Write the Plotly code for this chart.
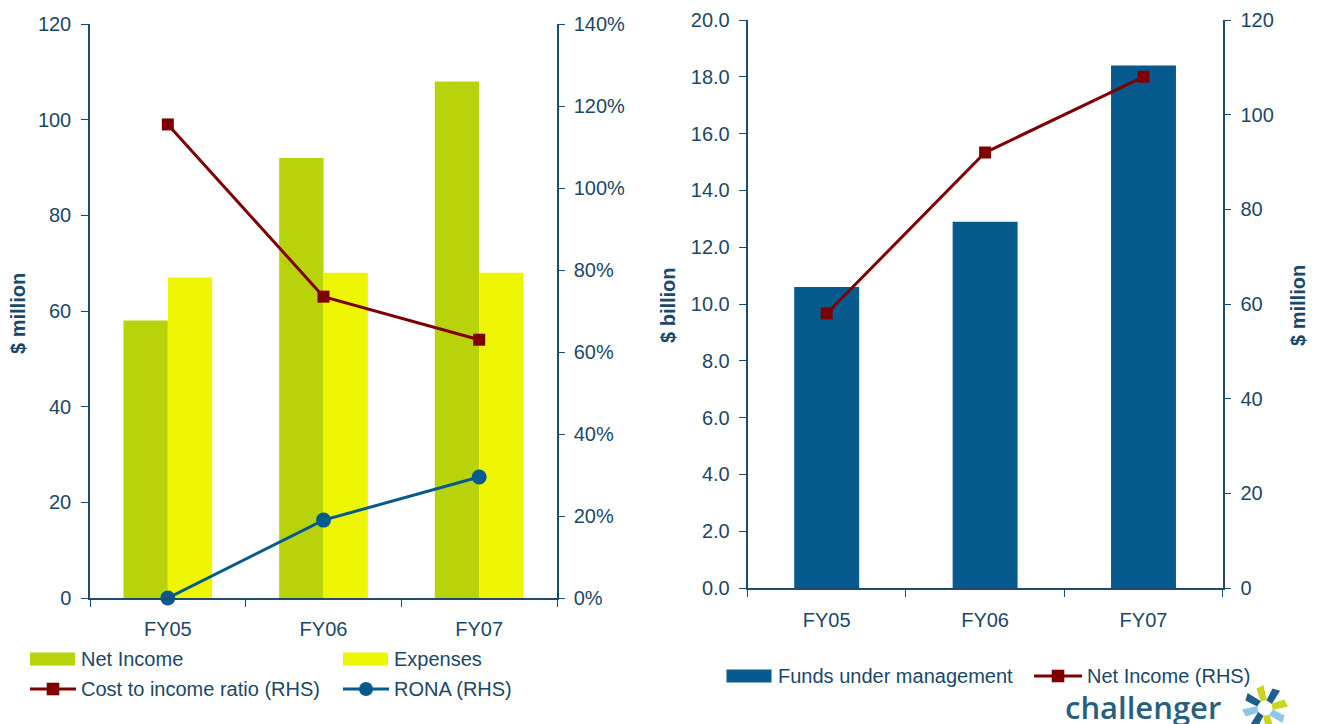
import math
import plotly.graph_objects as go

W, H = 1320, 724

# ---- data -------------------------------------------------------------
years = ["FY05", "FY06", "FY07"]
net_income_mn = [58, 92, 108]
expenses_mn = [67, 68, 68]
cost_to_income_pct = [115.5, 73.5, 63.0]
rona_pct = [0.0, 19.0, 29.5]
funds_under_mgmt_bn = [10.6, 12.9, 18.4]

mn_ticks = [0, 20, 40, 60, 80, 100, 120]
pct_ticks = [0, 20, 40, 60, 80, 100, 120, 140]
bn_ticks = [0, 2, 4, 6, 8, 10, 12, 14, 16, 18, 20]

# ---- style ------------------------------------------------------------
INK = "#1B4868"
AXIS = "#1E4C6C"
GREEN = "#B8D30B"
YELLOW = "#EEF502"
MAROON = "#7F0000"
BLUE = "#065A8E"
FONT = "Liberation Sans, Arial, sans-serif"
TICKFONT = dict(family=FONT, size=20, color=INK)


def px(x):
    return x / W


def py(y):
    return 1 - y / H


LEFT_X = [px(90), px(557)]
LEFT_Y = [py(598), py(24)]
RIGHT_X = [px(747.5), px(1222.7)]
RIGHT_Y = [py(588), py(20)]

fig = go.Figure()

# ---- left panel: income / expenses with ratios on the RHS -------------
fig.add_trace(go.Bar(name="Net Income", x=years, y=net_income_mn,
                     marker=dict(color=GREEN, line=dict(width=0)),
                     width=0.285, offset=-0.285, xaxis="x", yaxis="y"))
fig.add_trace(go.Bar(name="Expenses", x=years, y=expenses_mn,
                     marker=dict(color=YELLOW, line=dict(width=0)),
                     width=0.285, offset=0.0, xaxis="x", yaxis="y"))
fig.add_trace(go.Scatter(name="Cost to income ratio (RHS)", x=years, y=cost_to_income_pct,
                         mode="lines+markers", line=dict(color=MAROON, width=3),
                         marker=dict(symbol="square", size=12, color=MAROON),
                         xaxis="x", yaxis="y2"))
fig.add_trace(go.Scatter(name="RONA (RHS)", x=years, y=rona_pct,
                         mode="lines+markers", line=dict(color=BLUE, width=3),
                         marker=dict(symbol="circle", size=15, color=BLUE),
                         xaxis="x", yaxis="y2", cliponaxis=False))

# ---- right panel: funds under management with net income on the RHS ---
fig.add_trace(go.Bar(name="Funds under management", x=years, y=funds_under_mgmt_bn,
                     marker=dict(color=BLUE, line=dict(width=0)),
                     width=0.41, xaxis="x2", yaxis="y3"))
fig.add_trace(go.Scatter(name="Net Income (RHS)", x=years, y=net_income_mn,
                         mode="lines+markers", line=dict(color=MAROON, width=3),
                         marker=dict(symbol="square", size=12, color=MAROON),
                         xaxis="x2", yaxis="y4"))

common = dict(showgrid=False, zeroline=False, showline=True, linecolor=AXIS,
              linewidth=1.5, tickcolor=AXIS, tickwidth=1.3, ticklen=7,
              ticks="outside", tickfont=TICKFONT, fixedrange=True, automargin=False)

layout = dict(
    width=W, height=H,
    margin=dict(l=0, r=0, t=0, b=0, autoexpand=False),
    paper_bgcolor="white", plot_bgcolor="rgba(0,0,0,0)",
    showlegend=False, barmode="overlay",
    xaxis=dict(common, type="category", domain=LEFT_X, anchor="y",
               range=[-0.5, 2.5], tickson="boundaries", ticklabelstandoff=12),
    yaxis=dict(common, domain=LEFT_Y, anchor="x", range=[0, 120],
               tickvals=mn_ticks, ticklabelstandoff=6),
    yaxis2=dict(common, overlaying="y", side="right", anchor="x", range=[0, 140],
                tickvals=pct_ticks, ticktext=[f"{v}%" for v in pct_ticks],
                ticklen=6, ticklabelstandoff=5),
    # inner half of the crossing ticks on the left panel
    xaxis5=dict(showgrid=False, zeroline=False, showline=False, overlaying="x",
                anchor="y", range=[-0.5, 2.5], tickvals=[-0.5, 0.5, 1.5, 2.5],
                ticks="inside", ticklen=7, tickwidth=1.3, tickcolor=AXIS,
                showticklabels=False, fixedrange=True, automargin=False),
    yaxis5=dict(showgrid=False, zeroline=False, showline=False, overlaying="y",
                anchor="x", side="left", range=[0, 120], tickvals=mn_ticks,
                ticks="inside", ticklen=7, tickwidth=1.3, tickcolor=AXIS,
                showticklabels=False, fixedrange=True, automargin=False),
    xaxis2=dict(common, type="category", domain=RIGHT_X, anchor="y3",
                range=[-0.5, 2.5], tickson="boundaries", ticklabelstandoff=13),
    yaxis3=dict(common, domain=RIGHT_Y, anchor="x2", range=[0, 20],
                tickvals=bn_ticks, tickformat=".1f", ticklabelstandoff=5),
    yaxis4=dict(common, overlaying="y3", side="right", anchor="x2", range=[0, 120],
                tickvals=mn_ticks, ticklabelstandoff=5),
)
fig.update_layout(**layout)

shapes = []
annotations = []

# ---- axis titles -------------------------------------------------------
for text, x, y in [("$ million", 18, 314), ("$ billion", 668, 305), ("$ million", 1298, 306)]:
    annotations.append(dict(text=text, x=px(x), y=py(y), xref="paper", yref="paper",
                            textangle=-90, showarrow=False, xanchor="center", yanchor="middle",
                            font=dict(family=FONT, size=20, color=INK, weight="bold")))


# ---- legends -------------------------------------------------------------
def legend_entry(trace, x0, yc, sym_w=45):
    name = trace.name
    if trace.type == "bar":
        shapes.append(dict(type="rect", xref="paper", yref="paper",
                           x0=px(x0), x1=px(x0 + sym_w), y0=py(yc + 6.5), y1=py(yc - 6.5),
                           fillcolor=trace.marker.color, line=dict(width=0)))
    else:
        c = trace.line.color
        shapes.append(dict(type="line", xref="paper", yref="paper",
                           x0=px(x0), x1=px(x0 + sym_w + 1), y0=py(yc), y1=py(yc),
                           line=dict(color=c, width=3)))
        xm = x0 + sym_w / 2 + 0.5
        r = 6.3 if trace.marker.symbol == "square" else 7
        shapes.append(dict(type="rect" if trace.marker.symbol == "square" else "circle",
                           xref="paper", yref="paper",
                           x0=px(xm - r), x1=px(xm + r), y0=py(yc + r), y1=py(yc - r),
                           fillcolor=c, line=dict(width=0)))
    annotations.append(dict(text=name, x=px(x0 + sym_w + 4), y=py(yc), xref="paper",
                            yref="paper", showarrow=False, xanchor="left", yanchor="middle",
                            font=dict(family=FONT, size=20, color=INK)))


tr = {t.name: t for t in fig.data}
legend_entry(tr["Net Income"], 30, 659)
legend_entry(tr["Expenses"], 343, 659)
legend_entry(tr["Cost to income ratio (RHS)"], 30, 689)
legend_entry(tr["RONA (RHS)"], 343, 689)
legend_entry(tr["Funds under management"], 726.5, 676)
legend_entry(tr["Net Income (RHS)"], 1034, 676, sym_w=47)

# ---- company mark ---------------------------------------------------------
annotations.append(dict(text="challenger", x=px(1063), y=py(707), xref="paper", yref="paper",
                        showarrow=False, xanchor="left", yanchor="middle",
                        font=dict(family="Open Sans, sans-serif", size=31, color="#27607F",
                                  weight=600)))
cx, cy = 1265, 708
petal_colours = ["#C9D520", "#1F5F8B", "#8CC7E6", "#1F5F8B",
                 "#C9D520", "#8CC7E6", "#C9D520", "#1F5F8B"]
for k in range(8):
    a = math.radians(k * 45 + 100)
    pts = []
    for r, da in [(8, -24), (23, -6), (21, 14), (8, 24)]:
        ang = a + math.radians(da)
        pts.append((cx + r * math.cos(ang), cy - r * math.sin(ang)))
    path = "M " + " L ".join(f"{px(x):.5f},{py(y):.5f}" for x, y in pts) + " Z"
    shapes.append(dict(type="path", xref="paper", yref="paper", path=path,
                       fillcolor=petal_colours[k], line=dict(width=0)))

fig.update_layout(shapes=shapes, annotations=annotations)

fig.write_html("out.html", config={"displayModeBar": False})
